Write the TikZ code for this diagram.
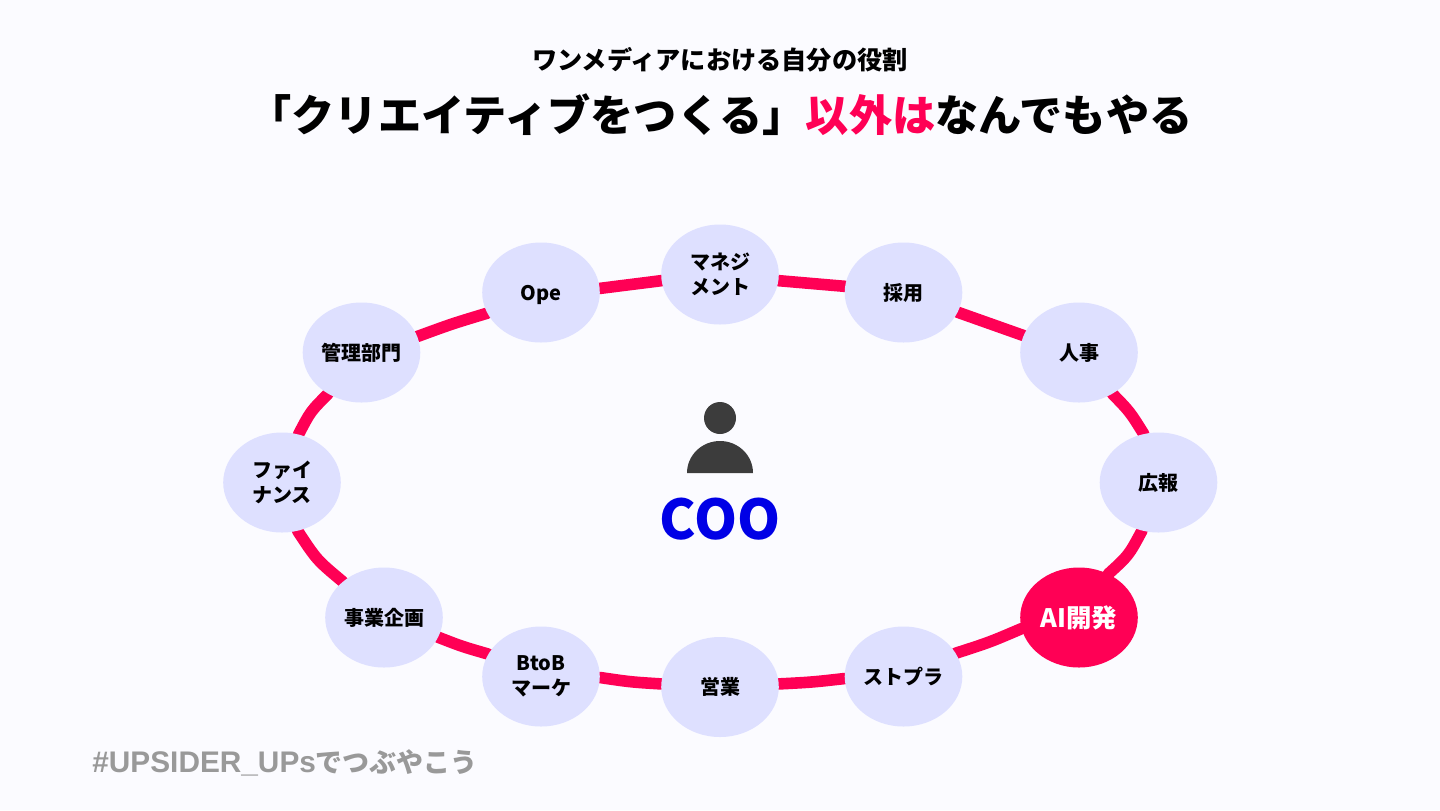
\documentclass[tikz,border=0pt]{standalone}
\usepackage{fontspec}
\setmainfont{Noto Sans CJK JP}
\newfontfamily\latintag{Liberation Sans}
\usetikzlibrary{backgrounds,shapes.geometric}
\definecolor{bgc}{HTML}{FBFBFF}
\definecolor{pinkc}{HTML}{FF0055}
\definecolor{nodec}{HTML}{DEE0FF}
\definecolor{bluec}{HTML}{0000E6}
\definecolor{iconc}{HTML}{3C3C3C}
\definecolor{tagc}{HTML}{999999}
\tikzset{
  x=0.5pt,y=-0.5pt,
  role/.style={shape=ellipse,fill=nodec,minimum width=58.8pt,minimum height=50pt,inner sep=0pt,
    align=center,font=\fontsize{10}{12.5}\selectfont\bfseries,text=black},
  hot/.style={fill=pinkc,text=white,font=\fontsize{12.7}{15}\selectfont\bfseries},
  ring/.style={draw=pinkc,line width=5.8pt,line cap=round},
  ttl/.style={inner sep=0pt,font=\fontsize{21.6}{25}\selectfont\bfseries,text=black},
}
\begin{document}
\begin{tikzpicture}
\useasboundingbox (0,0) rectangle (1440,810);
\node[ttl,font=\fontsize{12.6}{15}\selectfont\bfseries] (sub) at (720,60) {ワンメディアにおける自分の役割};
\node[ttl] (title) at (720.5,115) {「クリエイティブをつくる」\textcolor{pinkc}{以外は}なんでもやる};
\node[role] (n1) at (720,274.5) {マネジ\\メント};
\node[role] (n2) at (903.5,292.5) {採用};
\node[role] (n3) at (1079,352.5) {人事};
\node[role] (n4) at (1158.5,482.5) {広報};
\node[role,hot] (n5) at (1079,617.5) {AI開発};
\node[role] (n6) at (903.5,676.5) {ストプラ};
\node[role] (n7) at (720,687) {営業};
\node[role] (n8) at (541,676.5) {BtoB\\マーケ};
\node[role] (n9) at (384,617.5) {事業企画};
\node[role] (n10) at (282,482.5) {ファイ\\ナンス};
\node[role] (n11) at (361.5,352.5) {管理部門};
\node[role] (n12) at (541,292.5) {\vphantom{採}\raisebox{-1.2pt}{Ope}};
\begin{pgfonlayer}{background}
\fill[bgc] (0,0) rectangle (1440,810);
\draw[ring] (n1.-6.4) .. controls (812,283.3) .. (n2.174.5);
\draw[ring] (n2.-20.7) .. controls (990,323.8) .. (n3.163.6);
\draw[ring] (n3.-51.7) .. controls (1129.8,411.6) .. (n4.107.4);
\draw[ring] (n4.251.2) .. controls (1128.7,555.4) .. (n5.56.3);
\draw[ring] (n5.191.4) .. controls (989.5,642.3) .. (n6.24.1);
\draw[ring] (n6.182.5) .. controls (812,682.2) .. (n7.3);
\draw[ring] (n7.177) .. controls (630.5,682) .. (n8.-1.5);
\draw[ring] (n8.157.4) .. controls (462,646.5) .. (n9.-20.8);
\draw[ring] (n9.139.6) .. controls (316.7,559.9) .. (n10.-72);
\draw[ring] (n10.71.7) .. controls (310.6,411.3) .. (n11.231.3);
\draw[ring] (n11.16.6) .. controls (452,323.8) .. (n12.201.1);
\draw[ring] (n12.4.9) .. controls (630.8,283.7) .. (n1.186.4);
\end{pgfonlayer}
\fill[iconc] (720,418) circle[radius=8pt];
\fill[iconc] (687,473) arc[start angle=180,end angle=0,x radius=16.5pt,y radius=16pt] -- cycle;
\node[inner sep=0pt,text=bluec,font=\fontsize{27.4}{32}\selectfont\bfseries] (coo) at (720,519) {COO};
\node[inner sep=0pt,anchor=west,text=tagc,font=\fontsize{13.5}{17}\selectfont\bfseries] (tag) at (92,763) {{\latintag\fontsize{14.9}{17}\selectfont\bfseries\#UPSIDER\_UPs}でつぶやこう};
\end{tikzpicture}
\end{document}
